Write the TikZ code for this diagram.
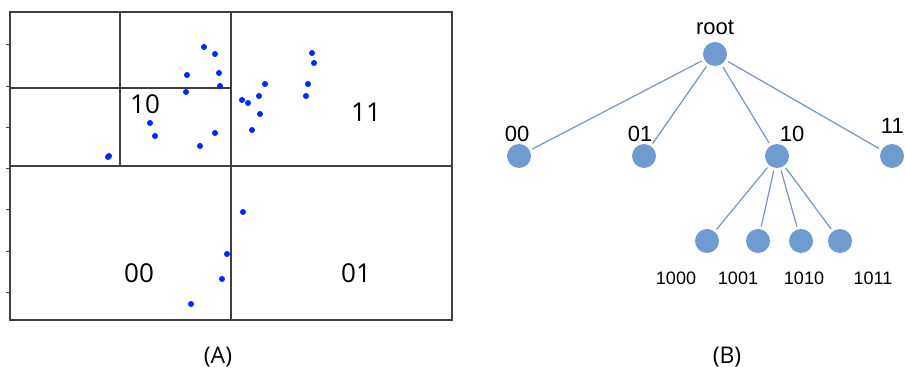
\documentclass[tikz,border=0pt]{standalone}
\usepackage{fontspec}
\setmainfont{Open Sans}
\newfontfamily\treefont{Liberation Sans}
\usetikzlibrary{positioning}

\definecolor{nodeblue}{RGB}{112,155,207}
\definecolor{edgeblue}{RGB}{118,150,192}
\definecolor{gridgray}{RGB}{64,64,64}

\begin{document}
\begin{tikzpicture}[
    x=1pt, y=-1pt,
    grid/.style={draw=gridgray, line width=1.2pt},
    tick/.style={draw=gridgray, line width=0.6pt},
    pt/.style={fill={rgb,255:red,0;green,40;blue,255}},
    region/.style={font=\fontsize{26}{30}\selectfont},
    caption/.style={font=\fontsize{23}{27}\selectfont},
    tnode/.style={circle, fill=nodeblue, minimum size=24pt, inner sep=0pt, outer sep=3pt},
    tlabel/.style={font=\treefont\fontsize{22}{26}\selectfont},
    llabel/.style={font=\treefont\fontsize{18}{21}\selectfont},
    edge/.style={draw=edgeblue, line width=1.2pt}
]
\useasboundingbox (0,0) rectangle (905,374);

% --- (A) partition ---
\draw[grid] (10,12) rectangle (452,320);
\draw[grid] (231,12) -- (231,320);
\draw[grid] (10,166) -- (452,166);
\draw[grid] (120,12) -- (120,166);
\draw[grid] (10,88) -- (231,88);
\foreach \y in {44,86,127,168,209,251,292}
    \draw[tick] (6,\y) -- (10,\y);

\foreach \px/\py in {204/47, 215/54, 187/75, 219/73, 220/86, 186/92,
    242/100, 248/103, 259/96, 265/84, 260/114, 252/130,
    312/53, 314/63, 308/84, 306/96, 150/123, 155/136, 215/133, 200/146,
    108/157, 109/156, 243/212, 227/254, 222/279, 191/304}
    \fill[pt] (\px,\py) circle (3);

\node (r10) [region] at (145,104) {10};
\node (r11) [region] at (366,112) {11};
\node (r00) [region] at (139,273) {00};
\node (r01) [region] at (356,273) {01};
\node (capA) [caption] at (218,357) {(A)};

% --- (B) tree ---
\node (root) [tnode] at (715,54) {};
\node (n00) [tnode] at (519,156) {};
\node (n01) [tnode] at (644,156) {};
\node (n10) [tnode] at (777,156) {};
\node (n11) [tnode] at (892,156) {};
\node (n1000) [tnode] at (707,241) {};
\node (n1001) [tnode] at (758,241) {};
\node (n1010) [tnode] at (801,241) {};
\node (n1011) [tnode] at (840,241) {};

\node (l-root) [tlabel] at (715,27) {root};
\node (l00) [tlabel] at (517,134) {00};
\node (l01) [tlabel] at (640,134) {01};
\node (l10) [tlabel] at (792,134) {10};
\node (l11) [tlabel, anchor=east, inner xsep=1pt] at (905,126) {11};
\node (l1000) [llabel] at (676,278) {1000};
\node (l1001) [llabel] at (738,278) {1001};
\node (l1010) [llabel] at (804,278) {1010};
\node (l1011) [llabel] at (873,278) {1011};

\foreach \c in {n00,n01,n10,n11}
    \draw[edge] (root) -- (\c);
\foreach \c in {n1000,n1001,n1010,n1011}
    \draw[edge] (n10) -- (\c);

\node (capB) [caption] at (727,357) {(B)};
\end{tikzpicture}
\end{document}
